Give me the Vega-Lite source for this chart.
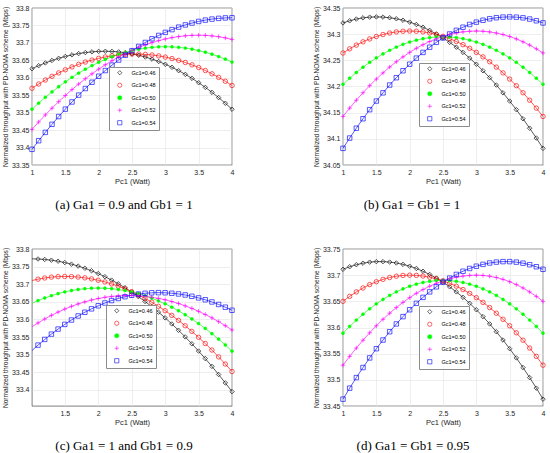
{
  "$schema": "https://vega.github.io/schema/vega-lite/v6.json",
  "background": "white",
  "padding": {"left": 2, "top": 3, "right": 7, "bottom": 0},
  "bounds": "flush",
  "columns": 2,
  "spacing": {"row": 84, "column": 111},
  "datasets": {
    "d": [
      {"f": "a", "P": 1.0, "g46": 33.6260, "g48": 33.5700, "g50": 33.5098, "g52": 33.4520, "g54": 33.3949},
      {"f": "a", "P": 1.1, "g46": 33.6347, "g48": 33.5822, "g50": 33.5273, "g52": 33.4732, "g54": 33.4196},
      {"f": "a", "P": 1.2, "g46": 33.6425, "g48": 33.5936, "g50": 33.5439, "g52": 33.4935, "g54": 33.4435},
      {"f": "a", "P": 1.3, "g46": 33.6496, "g48": 33.6043, "g50": 33.5595, "g52": 33.5129, "g54": 33.4666},
      {"f": "a", "P": 1.4, "g46": 33.6558, "g48": 33.6140, "g50": 33.5743, "g52": 33.5315, "g54": 33.4888},
      {"f": "a", "P": 1.5, "g46": 33.6611, "g48": 33.6230, "g50": 33.5882, "g52": 33.5492, "g54": 33.5101},
      {"f": "a", "P": 1.6, "g46": 33.6657, "g48": 33.6312, "g50": 33.6012, "g52": 33.5661, "g54": 33.5307},
      {"f": "a", "P": 1.7, "g46": 33.6694, "g48": 33.6385, "g50": 33.6133, "g52": 33.5820, "g54": 33.5503},
      {"f": "a", "P": 1.8, "g46": 33.6723, "g48": 33.6451, "g50": 33.6245, "g52": 33.5972, "g54": 33.5692},
      {"f": "a", "P": 1.9, "g46": 33.6743, "g48": 33.6508, "g50": 33.6348, "g52": 33.6114, "g54": 33.5872},
      {"f": "a", "P": 2.0, "g46": 33.6756, "g48": 33.6557, "g50": 33.6442, "g52": 33.6248, "g54": 33.6044},
      {"f": "a", "P": 2.1, "g46": 33.6760, "g48": 33.6597, "g50": 33.6527, "g52": 33.6373, "g54": 33.6207},
      {"f": "a", "P": 2.2, "g46": 33.6755, "g48": 33.6630, "g50": 33.6603, "g52": 33.6490, "g54": 33.6362},
      {"f": "a", "P": 2.3, "g46": 33.6742, "g48": 33.6654, "g50": 33.6671, "g52": 33.6598, "g54": 33.6509},
      {"f": "a", "P": 2.4, "g46": 33.6719, "g48": 33.6671, "g50": 33.6729, "g52": 33.6697, "g54": 33.6647},
      {"f": "a", "P": 2.5, "g46": 33.6686, "g48": 33.6679, "g50": 33.6778, "g52": 33.6788, "g54": 33.6777},
      {"f": "a", "P": 2.6, "g46": 33.6645, "g48": 33.6679, "g50": 33.6818, "g52": 33.6870, "g54": 33.6899},
      {"f": "a", "P": 2.7, "g46": 33.6594, "g48": 33.6670, "g50": 33.6850, "g52": 33.6944, "g54": 33.7012},
      {"f": "a", "P": 2.8, "g46": 33.6535, "g48": 33.6653, "g50": 33.6872, "g52": 33.7008, "g54": 33.7117},
      {"f": "a", "P": 2.9, "g46": 33.6466, "g48": 33.6628, "g50": 33.6886, "g52": 33.7065, "g54": 33.7213},
      {"f": "a", "P": 3.0, "g46": 33.6387, "g48": 33.6593, "g50": 33.6890, "g52": 33.7112, "g54": 33.7301},
      {"f": "a", "P": 3.1, "g46": 33.6300, "g48": 33.6551, "g50": 33.6886, "g52": 33.7151, "g54": 33.7381},
      {"f": "a", "P": 3.2, "g46": 33.6203, "g48": 33.6499, "g50": 33.6872, "g52": 33.7181, "g54": 33.7452},
      {"f": "a", "P": 3.3, "g46": 33.6098, "g48": 33.6439, "g50": 33.6850, "g52": 33.7203, "g54": 33.7515},
      {"f": "a", "P": 3.4, "g46": 33.5983, "g48": 33.6371, "g50": 33.6820, "g52": 33.7216, "g54": 33.7569},
      {"f": "a", "P": 3.5, "g46": 33.5858, "g48": 33.6294, "g50": 33.6780, "g52": 33.7220, "g54": 33.7615},
      {"f": "a", "P": 3.6, "g46": 33.5725, "g48": 33.6208, "g50": 33.6732, "g52": 33.7215, "g54": 33.7653},
      {"f": "a", "P": 3.7, "g46": 33.5582, "g48": 33.6114, "g50": 33.6674, "g52": 33.7201, "g54": 33.7682},
      {"f": "a", "P": 3.8, "g46": 33.5431, "g48": 33.6011, "g50": 33.6608, "g52": 33.7177, "g54": 33.7703},
      {"f": "a", "P": 3.9, "g46": 33.5270, "g48": 33.5900, "g50": 33.6534, "g52": 33.7143, "g54": 33.7716},
      {"f": "a", "P": 4.0, "g46": 33.5099, "g48": 33.5780, "g50": 33.6450, "g52": 33.7100, "g54": 33.7720},
      {"f": "b", "P": 1.0, "g46": 34.3215, "g48": 34.2640, "g50": 34.2041, "g52": 34.1428, "g54": 34.0818},
      {"f": "b", "P": 1.1, "g46": 34.3256, "g48": 34.2720, "g50": 34.2158, "g52": 34.1587, "g54": 34.1015},
      {"f": "b", "P": 1.2, "g46": 34.3289, "g48": 34.2791, "g50": 34.2267, "g52": 34.1738, "g54": 34.1203},
      {"f": "b", "P": 1.3, "g46": 34.3312, "g48": 34.2854, "g50": 34.2368, "g52": 34.1881, "g54": 34.1384},
      {"f": "b", "P": 1.4, "g46": 34.3325, "g48": 34.2909, "g50": 34.2461, "g52": 34.2016, "g54": 34.1557},
      {"f": "b", "P": 1.5, "g46": 34.3330, "g48": 34.2955, "g50": 34.2546, "g52": 34.2142, "g54": 34.1722},
      {"f": "b", "P": 1.6, "g46": 34.3326, "g48": 34.2993, "g50": 34.2623, "g52": 34.2260, "g54": 34.1879},
      {"f": "b", "P": 1.7, "g46": 34.3314, "g48": 34.3022, "g50": 34.2691, "g52": 34.2371, "g54": 34.2028},
      {"f": "b", "P": 1.8, "g46": 34.3294, "g48": 34.3043, "g50": 34.2752, "g52": 34.2473, "g54": 34.2168},
      {"f": "b", "P": 1.9, "g46": 34.3266, "g48": 34.3056, "g50": 34.2805, "g52": 34.2566, "g54": 34.2301},
      {"f": "b", "P": 2.0, "g46": 34.3230, "g48": 34.3060, "g50": 34.2849, "g52": 34.2652, "g54": 34.2426},
      {"f": "b", "P": 2.1, "g46": 34.3185, "g48": 34.3056, "g50": 34.2885, "g52": 34.2730, "g54": 34.2542},
      {"f": "b", "P": 2.2, "g46": 34.3133, "g48": 34.3044, "g50": 34.2914, "g52": 34.2799, "g54": 34.2651},
      {"f": "b", "P": 2.3, "g46": 34.3073, "g48": 34.3023, "g50": 34.2934, "g52": 34.2860, "g54": 34.2751},
      {"f": "b", "P": 2.4, "g46": 34.3004, "g48": 34.2995, "g50": 34.2946, "g52": 34.2913, "g54": 34.2844},
      {"f": "b", "P": 2.5, "g46": 34.2928, "g48": 34.2958, "g50": 34.2950, "g52": 34.2958, "g54": 34.2928},
      {"f": "b", "P": 2.6, "g46": 34.2844, "g48": 34.2913, "g50": 34.2946, "g52": 34.2995, "g54": 34.3004},
      {"f": "b", "P": 2.7, "g46": 34.2751, "g48": 34.2860, "g50": 34.2934, "g52": 34.3023, "g54": 34.3073},
      {"f": "b", "P": 2.8, "g46": 34.2651, "g48": 34.2799, "g50": 34.2914, "g52": 34.3044, "g54": 34.3133},
      {"f": "b", "P": 2.9, "g46": 34.2542, "g48": 34.2730, "g50": 34.2885, "g52": 34.3056, "g54": 34.3185},
      {"f": "b", "P": 3.0, "g46": 34.2426, "g48": 34.2652, "g50": 34.2849, "g52": 34.3060, "g54": 34.3230},
      {"f": "b", "P": 3.1, "g46": 34.2301, "g48": 34.2566, "g50": 34.2805, "g52": 34.3056, "g54": 34.3266},
      {"f": "b", "P": 3.2, "g46": 34.2168, "g48": 34.2473, "g50": 34.2752, "g52": 34.3043, "g54": 34.3294},
      {"f": "b", "P": 3.3, "g46": 34.2028, "g48": 34.2371, "g50": 34.2691, "g52": 34.3022, "g54": 34.3314},
      {"f": "b", "P": 3.4, "g46": 34.1879, "g48": 34.2260, "g50": 34.2623, "g52": 34.2993, "g54": 34.3326},
      {"f": "b", "P": 3.5, "g46": 34.1722, "g48": 34.2142, "g50": 34.2546, "g52": 34.2955, "g54": 34.3330},
      {"f": "b", "P": 3.6, "g46": 34.1557, "g48": 34.2016, "g50": 34.2461, "g52": 34.2909, "g54": 34.3325},
      {"f": "b", "P": 3.7, "g46": 34.1384, "g48": 34.1881, "g50": 34.2368, "g52": 34.2854, "g54": 34.3312},
      {"f": "b", "P": 3.8, "g46": 34.1203, "g48": 34.1738, "g50": 34.2267, "g52": 34.2791, "g54": 34.3289},
      {"f": "b", "P": 3.9, "g46": 34.1015, "g48": 34.1587, "g50": 34.2158, "g52": 34.2720, "g54": 34.3256},
      {"f": "b", "P": 4.0, "g46": 34.0818, "g48": 34.1428, "g50": 34.2041, "g52": 34.2640, "g54": 34.3215},
      {"f": "c", "P": 1.0, "g46": 33.7720, "g48": 33.7100, "g50": 33.6450, "g52": 33.5780, "g54": 33.5099},
      {"f": "c", "P": 1.1, "g46": 33.7716, "g48": 33.7143, "g50": 33.6534, "g52": 33.5900, "g54": 33.5270},
      {"f": "c", "P": 1.2, "g46": 33.7703, "g48": 33.7177, "g50": 33.6608, "g52": 33.6011, "g54": 33.5431},
      {"f": "c", "P": 1.3, "g46": 33.7682, "g48": 33.7201, "g50": 33.6674, "g52": 33.6114, "g54": 33.5582},
      {"f": "c", "P": 1.4, "g46": 33.7653, "g48": 33.7215, "g50": 33.6732, "g52": 33.6208, "g54": 33.5725},
      {"f": "c", "P": 1.5, "g46": 33.7615, "g48": 33.7220, "g50": 33.6780, "g52": 33.6294, "g54": 33.5858},
      {"f": "c", "P": 1.6, "g46": 33.7569, "g48": 33.7216, "g50": 33.6820, "g52": 33.6371, "g54": 33.5983},
      {"f": "c", "P": 1.7, "g46": 33.7515, "g48": 33.7203, "g50": 33.6850, "g52": 33.6439, "g54": 33.6098},
      {"f": "c", "P": 1.8, "g46": 33.7452, "g48": 33.7181, "g50": 33.6872, "g52": 33.6499, "g54": 33.6203},
      {"f": "c", "P": 1.9, "g46": 33.7381, "g48": 33.7151, "g50": 33.6886, "g52": 33.6551, "g54": 33.6300},
      {"f": "c", "P": 2.0, "g46": 33.7301, "g48": 33.7112, "g50": 33.6890, "g52": 33.6593, "g54": 33.6387},
      {"f": "c", "P": 2.1, "g46": 33.7213, "g48": 33.7065, "g50": 33.6886, "g52": 33.6628, "g54": 33.6466},
      {"f": "c", "P": 2.2, "g46": 33.7117, "g48": 33.7008, "g50": 33.6872, "g52": 33.6653, "g54": 33.6535},
      {"f": "c", "P": 2.3, "g46": 33.7012, "g48": 33.6944, "g50": 33.6850, "g52": 33.6670, "g54": 33.6594},
      {"f": "c", "P": 2.4, "g46": 33.6899, "g48": 33.6870, "g50": 33.6818, "g52": 33.6679, "g54": 33.6645},
      {"f": "c", "P": 2.5, "g46": 33.6777, "g48": 33.6788, "g50": 33.6778, "g52": 33.6679, "g54": 33.6686},
      {"f": "c", "P": 2.6, "g46": 33.6647, "g48": 33.6697, "g50": 33.6729, "g52": 33.6671, "g54": 33.6719},
      {"f": "c", "P": 2.7, "g46": 33.6509, "g48": 33.6598, "g50": 33.6671, "g52": 33.6654, "g54": 33.6742},
      {"f": "c", "P": 2.8, "g46": 33.6362, "g48": 33.6490, "g50": 33.6603, "g52": 33.6630, "g54": 33.6755},
      {"f": "c", "P": 2.9, "g46": 33.6207, "g48": 33.6373, "g50": 33.6527, "g52": 33.6597, "g54": 33.6760},
      {"f": "c", "P": 3.0, "g46": 33.6044, "g48": 33.6248, "g50": 33.6442, "g52": 33.6557, "g54": 33.6756},
      {"f": "c", "P": 3.1, "g46": 33.5872, "g48": 33.6114, "g50": 33.6348, "g52": 33.6508, "g54": 33.6743},
      {"f": "c", "P": 3.2, "g46": 33.5692, "g48": 33.5972, "g50": 33.6245, "g52": 33.6451, "g54": 33.6723},
      {"f": "c", "P": 3.3, "g46": 33.5503, "g48": 33.5820, "g50": 33.6133, "g52": 33.6385, "g54": 33.6694},
      {"f": "c", "P": 3.4, "g46": 33.5307, "g48": 33.5661, "g50": 33.6012, "g52": 33.6312, "g54": 33.6657},
      {"f": "c", "P": 3.5, "g46": 33.5101, "g48": 33.5492, "g50": 33.5882, "g52": 33.6230, "g54": 33.6611},
      {"f": "c", "P": 3.6, "g46": 33.4888, "g48": 33.5315, "g50": 33.5743, "g52": 33.6140, "g54": 33.6558},
      {"f": "c", "P": 3.7, "g46": 33.4666, "g48": 33.5129, "g50": 33.5595, "g52": 33.6043, "g54": 33.6496},
      {"f": "c", "P": 3.8, "g46": 33.4435, "g48": 33.4935, "g50": 33.5439, "g52": 33.5936, "g54": 33.6425},
      {"f": "c", "P": 3.9, "g46": 33.4196, "g48": 33.4732, "g50": 33.5273, "g52": 33.5822, "g54": 33.6347},
      {"f": "c", "P": 4.0, "g46": 33.3949, "g48": 33.4520, "g50": 33.5098, "g52": 33.5700, "g54": 33.6260},
      {"f": "d", "P": 1.0, "g46": 33.7112, "g48": 33.6500, "g50": 33.5890, "g52": 33.5280, "g54": 33.4631},
      {"f": "d", "P": 1.1, "g46": 33.7161, "g48": 33.6595, "g50": 33.6020, "g52": 33.5448, "g54": 33.4841},
      {"f": "d", "P": 1.2, "g46": 33.7200, "g48": 33.6680, "g50": 33.6141, "g52": 33.5607, "g54": 33.5043},
      {"f": "d", "P": 1.3, "g46": 33.7229, "g48": 33.6755, "g50": 33.6253, "g52": 33.5757, "g54": 33.5235},
      {"f": "d", "P": 1.4, "g46": 33.7249, "g48": 33.6820, "g50": 33.6357, "g52": 33.5899, "g54": 33.5419},
      {"f": "d", "P": 1.5, "g46": 33.7259, "g48": 33.6875, "g50": 33.6451, "g52": 33.6033, "g54": 33.5595},
      {"f": "d", "P": 1.6, "g46": 33.7259, "g48": 33.6920, "g50": 33.6536, "g52": 33.6157, "g54": 33.5761},
      {"f": "d", "P": 1.7, "g46": 33.7250, "g48": 33.6955, "g50": 33.6613, "g52": 33.6273, "g54": 33.5919},
      {"f": "d", "P": 1.8, "g46": 33.7233, "g48": 33.6980, "g50": 33.6680, "g52": 33.6381, "g54": 33.6068},
      {"f": "d", "P": 1.9, "g46": 33.7206, "g48": 33.6995, "g50": 33.6738, "g52": 33.6480, "g54": 33.6208},
      {"f": "d", "P": 2.0, "g46": 33.7171, "g48": 33.7000, "g50": 33.6788, "g52": 33.6570, "g54": 33.6339},
      {"f": "d", "P": 2.1, "g46": 33.7128, "g48": 33.6996, "g50": 33.6828, "g52": 33.6652, "g54": 33.6462},
      {"f": "d", "P": 2.2, "g46": 33.7075, "g48": 33.6983, "g50": 33.6860, "g52": 33.6725, "g54": 33.6576},
      {"f": "d", "P": 2.3, "g46": 33.7014, "g48": 33.6961, "g50": 33.6882, "g52": 33.6789, "g54": 33.6681},
      {"f": "d", "P": 2.4, "g46": 33.6944, "g48": 33.6931, "g50": 33.6896, "g52": 33.6845, "g54": 33.6777},
      {"f": "d", "P": 2.5, "g46": 33.6865, "g48": 33.6893, "g50": 33.6900, "g52": 33.6893, "g54": 33.6865},
      {"f": "d", "P": 2.6, "g46": 33.6777, "g48": 33.6845, "g50": 33.6896, "g52": 33.6931, "g54": 33.6944},
      {"f": "d", "P": 2.7, "g46": 33.6681, "g48": 33.6789, "g50": 33.6882, "g52": 33.6961, "g54": 33.7014},
      {"f": "d", "P": 2.8, "g46": 33.6576, "g48": 33.6725, "g50": 33.6860, "g52": 33.6983, "g54": 33.7075},
      {"f": "d", "P": 2.9, "g46": 33.6462, "g48": 33.6652, "g50": 33.6828, "g52": 33.6996, "g54": 33.7128},
      {"f": "d", "P": 3.0, "g46": 33.6339, "g48": 33.6570, "g50": 33.6788, "g52": 33.7000, "g54": 33.7171},
      {"f": "d", "P": 3.1, "g46": 33.6208, "g48": 33.6480, "g50": 33.6738, "g52": 33.6995, "g54": 33.7206},
      {"f": "d", "P": 3.2, "g46": 33.6068, "g48": 33.6381, "g50": 33.6680, "g52": 33.6980, "g54": 33.7233},
      {"f": "d", "P": 3.3, "g46": 33.5919, "g48": 33.6273, "g50": 33.6613, "g52": 33.6955, "g54": 33.7250},
      {"f": "d", "P": 3.4, "g46": 33.5761, "g48": 33.6157, "g50": 33.6536, "g52": 33.6920, "g54": 33.7259},
      {"f": "d", "P": 3.5, "g46": 33.5595, "g48": 33.6033, "g50": 33.6451, "g52": 33.6875, "g54": 33.7259},
      {"f": "d", "P": 3.6, "g46": 33.5419, "g48": 33.5899, "g50": 33.6357, "g52": 33.6820, "g54": 33.7249},
      {"f": "d", "P": 3.7, "g46": 33.5235, "g48": 33.5757, "g50": 33.6253, "g52": 33.6755, "g54": 33.7229},
      {"f": "d", "P": 3.8, "g46": 33.5043, "g48": 33.5607, "g50": 33.6141, "g52": 33.6680, "g54": 33.7200},
      {"f": "d", "P": 3.9, "g46": 33.4841, "g48": 33.5448, "g50": 33.6020, "g52": 33.6595, "g54": 33.7161},
      {"f": "d", "P": 4.0, "g46": 33.4631, "g48": 33.5280, "g50": 33.5890, "g52": 33.6500, "g54": 33.7112}
    ]
  },
  "concat": [
    {
      "width": 200,
      "height": 157,
      "data": {"name": "d"},
      "transform": [
        {"filter": {"field": "f", "equal": "a"}},
        {"fold": ["g46", "g48", "g50", "g52", "g54"], "as": ["key", "T"]}
      ],
      "title": {"text": "(a) Ga1 = 0.9 and Gb1 = 1", "dx": -8},
      "encoding": {
        "x": {"field": "P", "type": "quantitative", "scale": {"domain": [1, 4], "nice": false, "zero": false}, "axis": {"title": "Pc1 (Watt)", "values": [1, 1.5, 2, 2.5, 3, 3.5, 4]}},
        "y": {"field": "T", "type": "quantitative", "scale": {"domain": [33.35, 33.8], "nice": false, "zero": false}, "axis": {"title": "Normalized throughput with PD-NOMA scheme (Mbps)", "values": [33.35, 33.4, 33.45, 33.5, 33.55, 33.6, 33.65, 33.7, 33.75, 33.8]}},
        "color": {
          "field": "key", "type": "nominal",
          "scale": {"domain": ["g46", "g48", "g50", "g52", "g54"], "range": ["#000000", "#ff0000", "#00ff00", "#ff00ff", "#0000ff"]},
          "legend": {"title": null, "legendX": 77, "legendY": 59, "labelExpr": "'Gc1=0.' + slice(datum.value, 1)"}
        }
      },
      "layer": [
        {"mark": {"type": "line", "strokeWidth": 0.65}},
        {
          "mark": {"type": "point", "filled": false, "strokeWidth": 0.65, "opacity": 1},
          "encoding": {
            "shape": {"field": "key", "type": "nominal", "scale": {"domain": ["g46", "g48", "g50", "g52", "g54"], "range": ["diamond", "circle", "circle", "M-1,0H1M0,-1V1", "square"]}, "legend": {"title": null, "legendX": 77, "legendY": 59, "labelExpr": "'Gc1=0.' + slice(datum.value, 1)"}},
            "size": {"condition": {"test": "datum.key === 'g50'", "value": 8}, "value": 20},
            "fill": {"field": "key", "type": "nominal", "scale": {"domain": ["g46", "g48", "g50", "g52", "g54"], "range": ["transparent", "transparent", "#00ff00", "transparent", "transparent"]}, "legend": null}
          }
        }
      ]
    },
    {
      "width": 200,
      "height": 157,
      "data": {"name": "d"},
      "transform": [
        {"filter": {"field": "f", "equal": "b"}},
        {"fold": ["g46", "g48", "g50", "g52", "g54"], "as": ["key", "T"]}
      ],
      "title": {"text": "(b) Ga1 = Gb1 = 1", "dx": -31},
      "encoding": {
        "x": {"field": "P", "type": "quantitative", "scale": {"domain": [1, 4], "nice": false, "zero": false}, "axis": {"title": "Pc1 (Watt)", "values": [1, 1.5, 2, 2.5, 3, 3.5, 4]}},
        "y": {"field": "T", "type": "quantitative", "scale": {"domain": [34.05, 34.35], "nice": false, "zero": false}, "axis": {"title": "Normalized throughput with PD-NOMA scheme (Mbps)", "values": [34.05, 34.1, 34.15, 34.2, 34.25, 34.3, 34.35]}},
        "color": {
          "field": "key", "type": "nominal",
          "scale": {"domain": ["g46", "g48", "g50", "g52", "g54"], "range": ["#000000", "#ff0000", "#00ff00", "#ff00ff", "#0000ff"]},
          "legend": {"title": null, "legendX": 76, "legendY": 55, "labelExpr": "'Gc1=0.' + slice(datum.value, 1)"}
        }
      },
      "layer": [
        {"mark": {"type": "line", "strokeWidth": 0.65}},
        {
          "mark": {"type": "point", "filled": false, "strokeWidth": 0.65, "opacity": 1},
          "encoding": {
            "shape": {"field": "key", "type": "nominal", "scale": {"domain": ["g46", "g48", "g50", "g52", "g54"], "range": ["diamond", "circle", "circle", "M-1,0H1M0,-1V1", "square"]}, "legend": {"title": null, "legendX": 76, "legendY": 55, "labelExpr": "'Gc1=0.' + slice(datum.value, 1)"}},
            "size": {"condition": {"test": "datum.key === 'g50'", "value": 8}, "value": 20},
            "fill": {"field": "key", "type": "nominal", "scale": {"domain": ["g46", "g48", "g50", "g52", "g54"], "range": ["transparent", "transparent", "#00ff00", "transparent", "transparent"]}, "legend": null}
          }
        }
      ]
    },
    {
      "width": 200,
      "height": 157,
      "data": {"name": "d"},
      "transform": [
        {"filter": {"field": "f", "equal": "c"}},
        {"fold": ["g46", "g48", "g50", "g52", "g54"], "as": ["key", "T"]}
      ],
      "title": {"text": "(c) Ga1 = 1 and Gb1 = 0.9", "dx": -8},
      "encoding": {
        "x": {"field": "P", "type": "quantitative", "scale": {"domain": [1.01, 4], "nice": false, "zero": false}, "axis": {"title": "Pc1 (Watt)", "values": [1.5, 2, 2.5, 3, 3.5, 4]}},
        "y": {"field": "T", "type": "quantitative", "scale": {"domain": [33.354, 33.8], "nice": false, "zero": false}, "axis": {"title": "Normalized throughput with PD-NOMA scheme (Mbps)", "values": [33.4, 33.45, 33.5, 33.55, 33.6, 33.65, 33.7, 33.75, 33.8]}},
        "color": {
          "field": "key", "type": "nominal",
          "scale": {"domain": ["g46", "g48", "g50", "g52", "g54"], "range": ["#000000", "#ff0000", "#00ff00", "#ff00ff", "#0000ff"]},
          "legend": {"title": null, "legendX": 74, "legendY": 56, "labelExpr": "'Gc1=0.' + slice(datum.value, 1)"}
        }
      },
      "layer": [
        {"mark": {"type": "line", "strokeWidth": 0.65, "clip": true}},
        {
          "transform": [{"filter": "datum.P > 1.05"}],
          "mark": {"type": "point", "filled": false, "strokeWidth": 0.65, "opacity": 1},
          "encoding": {
            "shape": {"field": "key", "type": "nominal", "scale": {"domain": ["g46", "g48", "g50", "g52", "g54"], "range": ["diamond", "circle", "circle", "M-1,0H1M0,-1V1", "square"]}, "legend": {"title": null, "legendX": 74, "legendY": 56, "labelExpr": "'Gc1=0.' + slice(datum.value, 1)"}},
            "size": {"condition": {"test": "datum.key === 'g50'", "value": 8}, "value": 20},
            "fill": {"field": "key", "type": "nominal", "scale": {"domain": ["g46", "g48", "g50", "g52", "g54"], "range": ["transparent", "transparent", "#00ff00", "transparent", "transparent"]}, "legend": null}
          }
        }
      ]
    },
    {
      "width": 200,
      "height": 157,
      "data": {"name": "d"},
      "transform": [
        {"filter": {"field": "f", "equal": "d"}},
        {"fold": ["g46", "g48", "g50", "g52", "g54"], "as": ["key", "T"]}
      ],
      "title": {"text": "(d) Ga1 = Gb1 = 0.95", "dx": -30},
      "encoding": {
        "x": {"field": "P", "type": "quantitative", "scale": {"domain": [1, 4], "nice": false, "zero": false}, "axis": {"title": "Pc1 (Watt)", "values": [1, 1.5, 2, 2.5, 3, 3.5, 4]}},
        "y": {"field": "T", "type": "quantitative", "scale": {"domain": [33.45, 33.75], "nice": false, "zero": false}, "axis": {"title": "Normalized throughput with PD-NOMA scheme (Mbps)", "values": [33.45, 33.5, 33.55, 33.6, 33.65, 33.7, 33.75]}},
        "color": {
          "field": "key", "type": "nominal",
          "scale": {"domain": ["g46", "g48", "g50", "g52", "g54"], "range": ["#000000", "#ff0000", "#00ff00", "#ff00ff", "#0000ff"]},
          "legend": {"title": null, "legendX": 76, "legendY": 57, "labelExpr": "'Gc1=0.' + slice(datum.value, 1)"}
        }
      },
      "layer": [
        {"mark": {"type": "line", "strokeWidth": 0.65}},
        {
          "mark": {"type": "point", "filled": false, "strokeWidth": 0.65, "opacity": 1},
          "encoding": {
            "shape": {"field": "key", "type": "nominal", "scale": {"domain": ["g46", "g48", "g50", "g52", "g54"], "range": ["diamond", "circle", "circle", "M-1,0H1M0,-1V1", "square"]}, "legend": {"title": null, "legendX": 76, "legendY": 57, "labelExpr": "'Gc1=0.' + slice(datum.value, 1)"}},
            "size": {"condition": {"test": "datum.key === 'g50'", "value": 8}, "value": 20},
            "fill": {"field": "key", "type": "nominal", "scale": {"domain": ["g46", "g48", "g50", "g52", "g54"], "range": ["transparent", "transparent", "#00ff00", "transparent", "transparent"]}, "legend": null}
          }
        }
      ]
    }
  ],
  "resolve": {
    "scale": {"x": "independent", "y": "independent", "color": "independent", "shape": "independent", "fill": "independent"},
    "legend": {"color": "independent", "shape": "independent"},
    "axis": {"x": "independent", "y": "independent"}
  },
  "config": {
    "font": "Liberation Sans",
    "view": {"stroke": "#262626", "strokeWidth": 0.6},
    "axis": {
      "labelFontSize": 7, "labelColor": "#262626", "titleColor": "#262626", "titleFontWeight": "normal",
      "gridColor": "#e3e3e3", "gridWidth": 0.6, "domain": false, "ticks": false,
      "labelPadding": 3, "labelFlush": false, "labelOverlap": false, "labelBound": false, "format": "~g"
    },
    "axisX": {"titleFontSize": 7.5, "titlePadding": 2},
    "axisY": {"titleFontSize": 6.6, "titlePadding": 3},
    "legend": {
      "orient": "none", "fillColor": "white", "strokeColor": "#8c8c8c", "padding": 3,
      "labelFontSize": 5.5, "labelColor": "#000000", "symbolSize": 18, "symbolStrokeWidth": 0.6,
      "symbolFillColor": "transparent", "symbolOffset": 5, "labelOffset": 9, "rowPadding": 4.5
    },
    "title": {
      "orient": "bottom", "frame": "group", "anchor": "middle", "offset": 14,
      "font": "Liberation Serif", "fontSize": 13, "fontWeight": "normal", "color": "#000000"
    }
  }
}
